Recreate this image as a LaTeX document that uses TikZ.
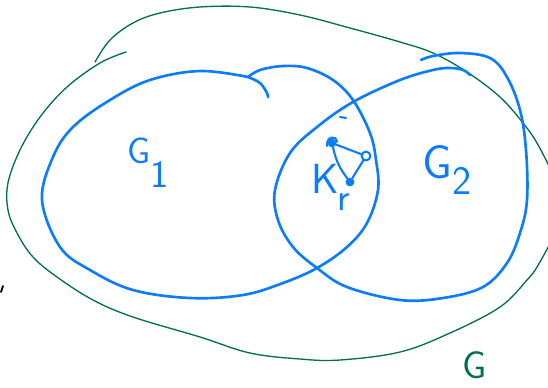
\documentclass[tikz,border=0pt]{standalone}
\definecolor{sketchblue}{RGB}{12,124,250}
\definecolor{sketchgreen}{RGB}{0,112,72}

\begin{document}
\begin{tikzpicture}[x=0.02cm, y=-0.02cm, font=\sffamily, line cap=round, line join=round]
  \tikzset{
    bluepen/.style={sketchblue, line width=1.5pt},
    greenpen/.style={sketchgreen, line width=0.75pt},
    edgepen/.style={sketchblue, line width=1.2pt},
    dot/.style={circle, fill=sketchblue, inner sep=0pt, minimum size=5pt},
    ring/.style={circle, draw=sketchblue, line width=1.2pt, inner sep=0pt, minimum size=5pt},
    bluelbl/.style={text=sketchblue, inner sep=0pt, anchor=base west},
    greenlbl/.style={text=sketchgreen, inner sep=0pt, anchor=base west}
  }
  \useasboundingbox (0,0) rectangle (548,387);

  \draw[greenpen] plot[smooth, tension=0.6] coordinates {(95,62) (110,40) (133,23) (160,13) (200,7) (250,7) (300,15) (350,28) (400,42) (433,53) (467,72) (500,97) (523,123) (537,143) (552,172)};
  \draw[greenpen] plot[smooth, tension=0.6] coordinates {(126,52) (100,63) (67,87) (40,117) (20,150) (8,183) (8,210) (17,233) (33,257) (57,277) (93,300) (133,317) (200,337) (250,353) (300,359) (340,360) (400,352) (450,333) (500,307) (527,280) (537,267) (552,240)};

  \draw[bluepen] plot[smooth, tension=0.6] coordinates {(248,77) (200,71) (150,80) (110,100) (73,127) (53,157) (42,200) (60,247) (90,270) (133,290) (190,298) (243,295) (283,283) (317,268) (347,247) (367,223) (378,190) (376,160) (370,133) (353,100) (333,80) (307,68) (283,66) (260,70) (248,77)};
  \draw[bluepen] plot[smooth, tension=0.6] coordinates {(248,77) (260,83) (267,93) (268,97)};
  \draw[bluepen] plot[smooth, tension=0.6] coordinates {(421,60) (433,56) (460,53) (490,58) (507,77) (520,110) (526,150) (527,200) (520,233) (507,263) (483,287) (443,298) (400,300) (347,287) (317,268) (293,247) (278,220) (275,190) (290,153) (317,127) (353,102) (400,80) (433,70) (450,68) (463,70) (470,75)};

  \node[dot] (va) at (332,143) {};
  \node[ring] (vb) at (366,156) {};
  \node[dot] (vc) at (350,182) {};
  \draw[edgepen] (va) -- (vb);
  \draw[edgepen] (va) to[bend right=12] (vc);
  \draw[edgepen] (vb) -- (vc);
  \draw[edgepen] (327,146) .. controls (326,137) and (336,134) .. (337,142);
  \draw[edgepen] (340,117) -- (346,118);

  \node[bluelbl] (g1) at (127,163) {\fontsize{21}{21}\selectfont G\raisebox{-14pt}{\fontsize{22}{22}\selectfont 1}};
  \node[bluelbl] (g2) at (422,178) {\fontsize{27}{27}\selectfont G\raisebox{-9.6pt}{\fontsize{23}{23}\selectfont 2}};
  \node[bluelbl] (kr) at (311,193) {\fontsize{24}{24}\selectfont K\kern-0.5pt\raisebox{-10pt}{\fontsize{22}{22}\selectfont r}};
  \node[greenlbl] (g) at (462,378) {\fontsize{22}{22}\selectfont G};

  \draw[black, line width=1pt] (3,286) -- (1,292);
\end{tikzpicture}
\end{document}
